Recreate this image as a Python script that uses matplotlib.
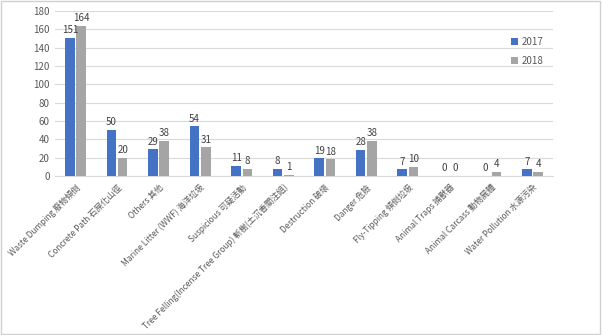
import numpy as np
import matplotlib.pyplot as plt
from matplotlib.patches import Rectangle

plt.rcParams['font.family'] = ['Noto Sans CJK TC', 'DejaVu Sans']

categories = ['Waste Dumping 廢物傾倒', 'Concrete Path 石屎化山徑', 'Others 其他',
              'Marine Litter (WWF) 海洋垃圾', 'Suspicious 可疑活動',
              'Tree Felling(Incense Tree Group) 斬樹(土沉香關注組)', 'Destruction 破壞',
              'Danger 危險', 'Fly-Tipping 傾倒垃圾', 'Animal Traps 捕獸器',
              'Animal Carcass 動物屍體', 'Water Pollution 水源污染']
y2017 = [151, 50, 29, 54, 11, 8, 19, 28, 7, 0, 0, 7]
y2018 = [164, 20, 38, 31, 8, 1, 18, 38, 10, 0, 4, 4]

fig = plt.figure(figsize=(6.02, 3.35), dpi=100)
ax = fig.add_axes([0.091, 0.475, 0.828, 0.492])

x = np.arange(len(categories))
w = 0.23
b1 = ax.bar(x - 0.135, y2017, w, color='#4472C4', label='2017', zorder=3)
b2 = ax.bar(x + 0.135, y2018, w, color='#A5A5A5', label='2018', zorder=3)

for bars in (b1, b2):
    ax.bar_label(bars, padding=2, fontsize=7, color='#404040')

ax.set_xlim(-0.5, len(categories) - 0.5)
ax.set_ylim(0, 180)
ax.set_yticks(range(0, 181, 20))
ax.yaxis.grid(True, color='#D9D9D9', linewidth=0.8, zorder=0)
for s in ['top', 'right', 'left']:
    ax.spines[s].set_visible(False)
ax.spines['bottom'].set_color('#D9D9D9')
ax.tick_params(axis='both', length=0, labelsize=7, colors='#595959')
ax.set_xticks(x)
ax.set_xticklabels(categories, rotation=45, ha='right', rotation_mode='anchor', fontsize=6)
ax.tick_params(axis='x', pad=5)

ax.legend(loc='upper left', bbox_to_anchor=(0.835, 0.915), bbox_transform=fig.transFigure,
          frameon=False, fontsize=7, handlelength=0.7, handleheight=0.7,
          handletextpad=0.4, labelspacing=0.9, labelcolor='#595959')

fig.patches.append(Rectangle((0.002, 0.004), 0.994, 0.992, transform=fig.transFigure,
                             fill=False, edgecolor='#D0D0D0', linewidth=1))

fig.savefig('out.png', dpi=100)
